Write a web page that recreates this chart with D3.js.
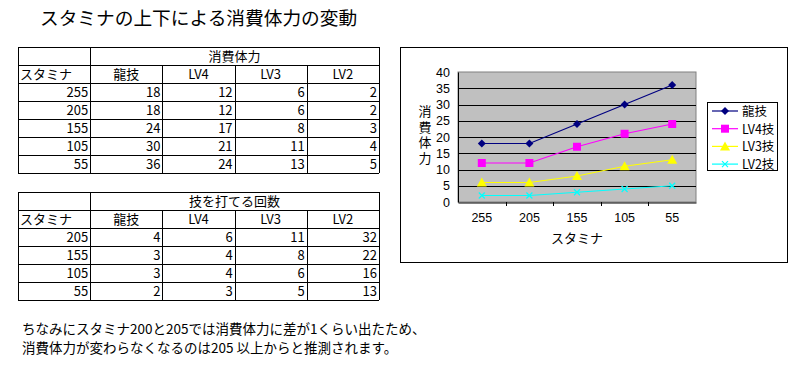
<!DOCTYPE html>
<html lang="ja">
  <head>
    <meta charset="utf-8" />
    <title>スタミナの上下による消費体力の変動</title>
    <script src="https://d3js.org/d3.v7.min.js"></script>
    <style type="text/css">
        body { margin:0; background:#fff; }
        text { font-family:"Noto Sans CJK JP", sans-serif; fill:#000; }
    </style>
  </head>
  <body>
    <svg></svg>
  <script type="text/javascript">

    var w = 807,
        h = 373;

    // data
    var stamina = ['255', '205', '155', '105', '55'];
    var ryugi = [18, 18, 24, 30, 36];
    var lv4 = [12, 12, 17, 21, 24];
    var lv3 = [6, 6, 8, 11, 13];
    var lv2 = [2, 2, 3, 4, 5];

    var countStamina = ['205', '155', '105', '55'];
    var countRyugi = [4, 3, 3, 2];
    var countLv4 = [6, 4, 4, 3];
    var countLv3 = [11, 8, 6, 5];
    var countLv2 = [32, 22, 16, 13];

    var colHeads = ['龍技', 'LV4', 'LV3', 'LV2'];
    var seriesNames = ['龍技', 'LV4技', 'LV3技', 'LV2技'];
    var yTicks = [0, 5, 10, 15, 20, 25, 30, 35, 40];

    var svg = d3.select('svg')
                .attr('width', w)
                .attr('height', h);

    svg.append('rect')
       .attr('width', w).attr('height', h)
       .attr('fill', '#fff');

    // title
    svg.append('text')
       .attr('x', 40).attr('y', 25)
       .style('font-size', '18.7px')
       .text('スタミナの上下による消費体力の変動');

    // ---------- tables ----------
    function drawTable(top, caption, rowLabels, cols) {
        var left = 18, cw = 72.2, rh = 18;
        var nRows = rowLabels.length + 2;
        var g = svg.append('g');
        var right = left + cw * 5;

        // horizontal lines
        g.selectAll('line.h')
         .data(d3.range(nRows + 1))
         .enter().append('line')
         .attr('x1', left).attr('x2', right)
         .attr('y1', function(d) { return top + d * rh + 0.5; })
         .attr('y2', function(d) { return top + d * rh + 0.5; })
         .attr('stroke', '#000');

        // vertical lines (inner ones skip the merged caption row)
        g.selectAll('line.v')
         .data(d3.range(6))
         .enter().append('line')
         .attr('x1', function(d) { return Math.round(left + d * cw) + 0.5; })
         .attr('x2', function(d) { return Math.round(left + d * cw) + 0.5; })
         .attr('y1', function(d) { return (d === 0 || d === 1 || d === 5) ? top : top + rh; })
         .attr('y2', top + nRows * rh)
         .attr('stroke', '#000');

        g.append('text')
         .attr('x', left + cw * 3).attr('y', top + 14)
         .attr('text-anchor', 'middle')
         .style('font-size', '13px')
         .text(caption);

        g.append('text')
         .attr('x', left + 2).attr('y', top + rh + 14)
         .style('font-size', '13px')
         .text('スタミナ');

        g.selectAll('text.head')
         .data(colHeads)
         .enter().append('text')
         .attr('x', function(d, i) { return left + cw * (i + 1.5); })
         .attr('y', top + rh + 14)
         .attr('text-anchor', 'middle')
         .style('font-size', '13px')
         .text(function(d) { return d; });

        rowLabels.forEach(function(label, r) {
            var vals = [label].concat(cols.map(function(c) { return c[r]; }));
            g.selectAll(null)
             .data(vals)
             .enter().append('text')
             .attr('x', function(d, i) { return left + cw * (i + 1) - 2; })
             .attr('y', top + rh * (r + 2) + 14)
             .attr('text-anchor', 'end')
             .style('font-size', '13px')
             .text(function(d) { return d; });
        });
    }

    drawTable(47, '消費体力', stamina, [ryugi, lv4, lv3, lv2]);
    drawTable(192, '技を打てる回数', countStamina, [countRyugi, countLv4, countLv3, countLv2]);

    // ---------- chart ----------
    svg.append('rect')
       .attr('x', 400.5).attr('y', 47.5)
       .attr('width', 387).attr('height', 215)
       .attr('fill', '#fff').attr('stroke', '#000');

    var pl = 458, pr = 696, pt = 72, pb = 202;

    var xScale = d3.scaleBand()
                   .domain(stamina)
                   .range([pl, pr]);
    var yScale = d3.scaleLinear()
                   .domain([0, 40])
                   .range([pb, pt]);

    svg.append('rect')
       .attr('x', pl).attr('y', pt)
       .attr('width', pr - pl).attr('height', pb - pt)
       .attr('fill', '#c0c0c0')
       .attr('stroke', '#808080');

    svg.selectAll('line.grid')
       .data(yTicks.slice(1, -1))
       .enter().append('line')
       .attr('x1', pl).attr('x2', pr)
       .attr('y1', function(d) { return Math.round(yScale(d)) + 0.5; })
       .attr('y2', function(d) { return Math.round(yScale(d)) + 0.5; })
       .attr('stroke', '#000');

    // axes (numbers in a tighter font so the labels do not collide)
    var yAxis = svg.append('g')
       .attr('transform', 'translate(' + pl + ',0)')
       .call(d3.axisLeft(yScale).tickValues(yTicks).tickSize(0).tickPadding(8));
    yAxis.select('.domain').attr('stroke', '#000');
    yAxis.selectAll('text')
         .style('font-family', '"Liberation Sans", sans-serif')
         .style('font-size', '12.5px');

    var xAxis = svg.append('g')
       .attr('transform', 'translate(0,' + (pb + 0.5) + ')')
       .call(d3.axisBottom(xScale).tickSize(0).tickPadding(11));
    xAxis.select('.domain').attr('stroke', '#000');
    xAxis.selectAll('text')
         .style('font-family', '"Liberation Sans", sans-serif')
         .style('font-size', '12.5px');

    // tick marks between categories
    svg.selectAll('line.xtick')
       .data(stamina.slice(1))
       .enter().append('line')
       .attr('x1', function(d) { return Math.round(xScale(d)) + 0.5; })
       .attr('x2', function(d) { return Math.round(xScale(d)) + 0.5; })
       .attr('y1', pb).attr('y2', pb + 4)
       .attr('stroke', '#000');

    svg.append('text')
       .attr('x', (pl + pr) / 2).attr('y', 243)
       .attr('text-anchor', 'middle')
       .style('font-size', '13px')
       .text('スタミナ');

    // vertical axis title, one text in vertical writing mode
    svg.append('text')
       .attr('x', 425).attr('y', 136)
       .attr('text-anchor', 'middle')
       .style('writing-mode', 'vertical-rl')
       .style('letter-spacing', '2.5px')
       .style('font-size', '13px')
       .text('消費体力');

    // series
    var series = [
        { name: seriesNames[0], values: ryugi, color: '#000080', shape: 'diamond' },
        { name: seriesNames[1], values: lv4, color: '#ff00ff', shape: 'square' },
        { name: seriesNames[2], values: lv3, color: '#ffff00', shape: 'triangle' },
        { name: seriesNames[3], values: lv2, color: '#00ffff', shape: 'cross' }
    ];

    function marker(g, shape, color) {
        if (shape === 'diamond') {
            g.append('path').attr('d', 'M0,-4L4,0L0,4L-4,0Z').attr('fill', color);
        } else if (shape === 'square') {
            g.append('rect').attr('x', -4).attr('y', -4).attr('width', 8).attr('height', 8).attr('fill', color);
        } else if (shape === 'triangle') {
            g.append('path').attr('d', 'M0,-5L5,4L-5,4Z').attr('fill', color);
        } else {
            g.append('path').attr('d', 'M-3,-3L3,3M-3,3L3,-3').attr('stroke', color).attr('stroke-width', 1.2);
        }
    }

    var line = d3.line()
                 .x(function(d, i) { return xScale(stamina[i]) + xScale.bandwidth() / 2; })
                 .y(function(d) { return yScale(d); });

    series.forEach(function(s) {
        svg.append('path')
           .attr('d', line(s.values))
           .attr('fill', 'none')
           .attr('stroke', s.color)
           .attr('stroke-width', 1.2);
        s.values.forEach(function(v, i) {
            var g = svg.append('g')
                       .attr('transform', 'translate(' + (xScale(stamina[i]) + xScale.bandwidth() / 2) + ',' + yScale(v) + ')');
            marker(g, s.shape, s.color);
        });
    });

    // legend
    svg.append('rect')
       .attr('x', 707.5).attr('y', 102.5)
       .attr('width', 70).attr('height', 68)
       .attr('fill', '#fff').attr('stroke', '#000');

    series.forEach(function(s, i) {
        var y = 111 + i * 17.7;
        svg.append('line')
           .attr('x1', 712).attr('x2', 738)
           .attr('y1', y).attr('y2', y)
           .attr('stroke', s.color).attr('stroke-width', 1.2);
        var g = svg.append('g').attr('transform', 'translate(725,' + y + ')');
        marker(g, s.shape, s.color);
        svg.append('text')
           .attr('x', 742).attr('y', y + 5)
           .style('font-size', '12.5px')
           .text(s.name);
    });

    // note
    svg.append('text')
       .attr('x', 22).attr('y', 334)
       .style('font-size', '13.5px')
       .text('ちなみにスタミナ200と205では消費体力に差が1くらい出たため、');
    svg.append('text')
       .attr('x', 22).attr('y', 353)
       .style('font-size', '13.5px')
       .text('消費体力が変わらなくなるのは205 以上からと推測されます。');
    </script>
  </body>
</html>
